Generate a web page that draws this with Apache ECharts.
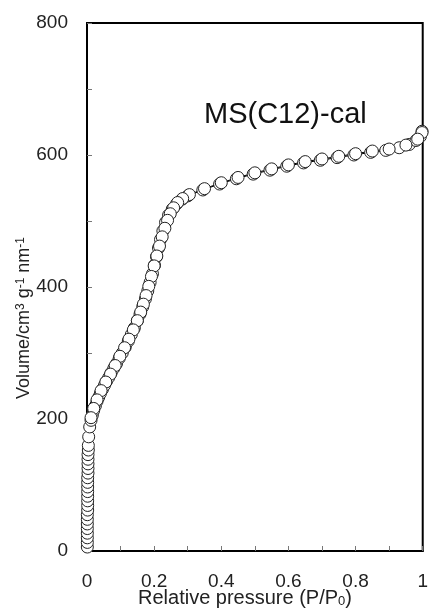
<!DOCTYPE html>
<html>
<head>
<meta charset="utf-8">
<script src="https://cdn.jsdelivr.net/npm/echarts@6/dist/echarts.min.js"></script>
<style>
html,body{margin:0;padding:0;background:#fff;}
#chart{width:431px;height:610px;}
</style>
</head>
<body>
<div id="chart"></div>
<script>
// Adsorption branch: relative pressure and volume
const adsorptionP = [0.001,0.001,0.001,0.001,0.001,0.001,0.001,0.001,0.002,0.002,0.002,0.002,0.002,0.002,0.002,0.002,0.003,0.003,0.003,0.003,0.003,0.004,0.004,0.005,0.008,0.012,0.016,0.02,0.025,0.03,0.035,0.04,0.046,0.052,0.058,0.065,0.072,0.08,0.088,0.096,0.105,0.114,0.123,0.132,0.141,0.15,0.158,0.166,0.174,0.181,0.188,0.195,0.201,0.207,0.213,0.219,0.226,0.234,0.243,0.254,0.267,0.283,0.3,0.345,0.395,0.445,0.495,0.545,0.595,0.645,0.695,0.745,0.795,0.845,0.89,0.93,0.96,0.98,0.993,0.998];
const adsorptionV = [6,13,20,27,34,41,48,55,62,69,76,83,90,97,104,111,118,125,132,139,146,153,160,173,188,198,206,213,220,227,233,239,245,251,257,263,270,277,284,292,300,309,318,328,338,349,359,370,382,394,407,420,433,446,459,472,485,498,509,518,526,533,538,547,556,564,571,577,583,588,592,596,600,604,607,611,616,622,628,636];
// Desorption branch
const desorptionP = [0.998,0.985,0.95,0.9,0.85,0.8,0.75,0.7,0.65,0.6,0.55,0.5,0.45,0.4,0.35,0.305,0.285,0.27,0.258,0.248,0.24,0.232,0.224,0.216,0.208,0.2,0.192,0.184,0.176,0.168,0.16,0.15,0.138,0.125,0.112,0.098,0.084,0.07,0.056,0.042,0.03,0.02,0.012];
const desorptionV = [634,624,615,609,606,602,598,594,590,585,579,573,566,558,549,540,534,528,520,511,501,489,476,462,447,432,416,401,387,374,362,349,335,321,308,295,281,268,256,243,229,216,202];

const xTickLabels = {0:'0',0.2:'0.2',0.4:'0.4',0.6:'0.6',0.8:'0.8',1:'1'};
const yTickLabels = {0:'0',200:'200',400:'400',600:'600',800:'800'};
const sampleLabel = 'MS(C12)-cal';

const FONT = '"Liberation Sans", Arial, sans-serif';
const chart = echarts.init(document.getElementById('chart'), null, {renderer:'canvas'});

function pairs(xs, ys){ return xs.map((x,i)=>[x, ys[i]]); }

const seriesStyle = {
  type:'line',
  symbol:'circle',
  symbolSize:12,
  clip:false,
  showAllSymbol:true,
  lineStyle:{color:'#000', width:1},
  itemStyle:{color:'#fff', borderColor:'#222', borderWidth:1},
  emphasis:{disabled:true},
  animation:false
};

chart.setOption({
  backgroundColor:'#fff',
  animation:false,
  grid:{left:87, right:6, top:23, bottom:59, show:true, borderColor:'#000', borderWidth:2, backgroundColor:'transparent'},
  xAxis:{
    type:'value', min:0, max:1, interval:0.2,
    axisLine:{show:true, lineStyle:{color:'#000', width:2}},
    axisTick:{show:true, inside:true, length:5, lineStyle:{color:'#777', width:1}},
    minorTick:{show:true, splitNumber:2, length:5, lineStyle:{color:'#777', width:1}},
    splitLine:{show:false},
    axisLabel:{margin:21, fontFamily:FONT, fontSize:19, color:'#222',
      formatter:v=>{ const k = Math.round(v*10)/10; return xTickLabels[k] !== undefined ? xTickLabels[k] : ''; }}
  },
  yAxis:{
    type:'value', min:0, max:800, interval:200,
    axisLine:{show:true, lineStyle:{color:'#000', width:2}},
    axisTick:{show:true, inside:true, length:5, lineStyle:{color:'#777', width:1}},
    minorTick:{show:true, splitNumber:2, length:5, lineStyle:{color:'#777', width:1}},
    splitLine:{show:false},
    axisLabel:{margin:19, fontFamily:FONT, fontSize:19, color:'#222',
      formatter:v=> yTickLabels[v] !== undefined ? yTickLabels[v] : ''}
  },
  graphic:[
    {type:'text', x:204, y:115, silent:true,
      style:{text:sampleLabel, font:'29px '+FONT, fill:'#111', align:'left', verticalAlign:'middle'}},
    {type:'text', x:245, y:598, silent:true,
      style:{text:'Relative pressure (P/P{sub|0})', font:'20px '+FONT, fill:'#222', align:'center', verticalAlign:'middle',
        rich:{sub:{fontSize:13, fontFamily:FONT, verticalAlign:'bottom', lineHeight:12, fill:'#222'}}}},
    {type:'text', x:24, y:318, rotation:Math.PI/2, silent:true,
      style:{text:'Volume/cm{sup|3} g{sup|-1} nm{sup|-1}', font:'18px '+FONT, fill:'#222', align:'center', verticalAlign:'middle',
        rich:{sup:{fontSize:12, fontFamily:FONT, verticalAlign:'top', lineHeight:12, fill:'#222'}}}}
  ],
  series:[
    Object.assign({name:'adsorption', data:pairs(adsorptionP, adsorptionV)}, seriesStyle),
    Object.assign({name:'desorption', data:pairs(desorptionP, desorptionV)}, seriesStyle)
  ]
});
</script>
</body>
</html>
